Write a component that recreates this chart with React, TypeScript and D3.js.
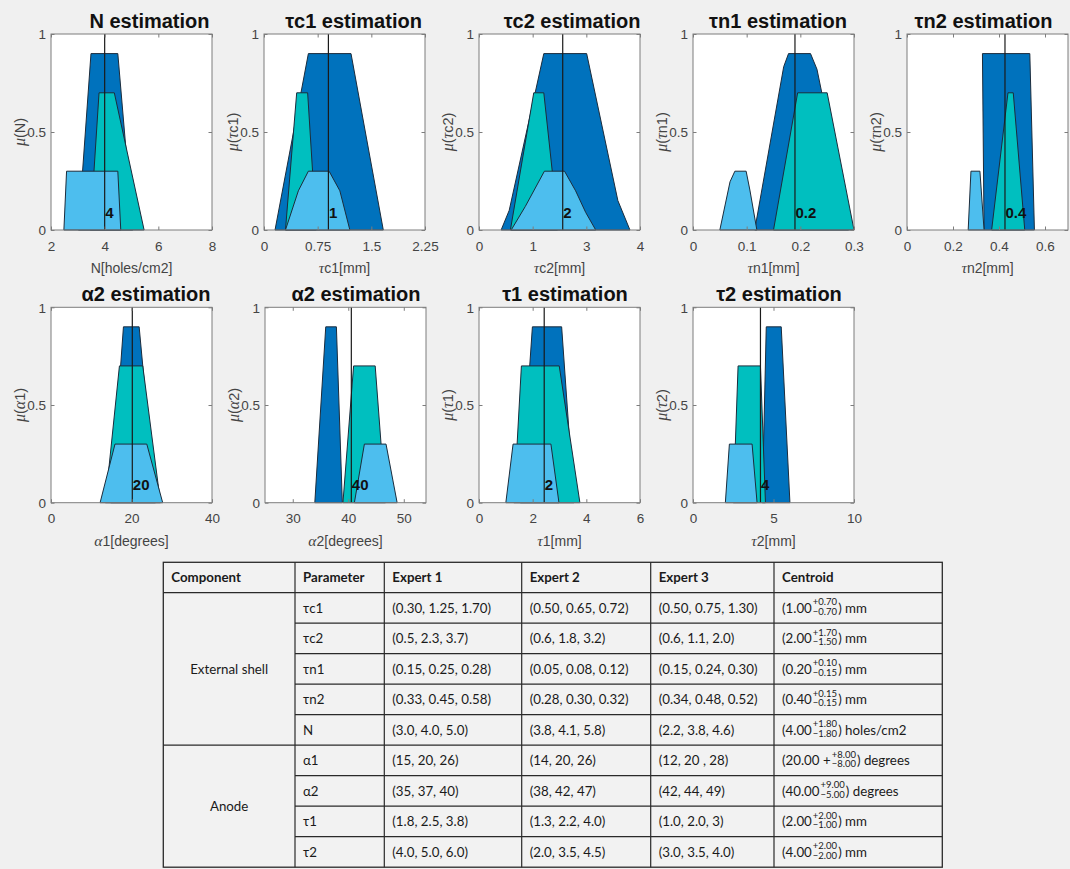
import React, { useEffect, useRef } from 'react';
import * as d3 from 'd3';

// ---------------- DATA ----------------
const panelTitles = [
  'N estimation', 'τc1 estimation', 'τc2 estimation', 'τn1 estimation', 'τn2 estimation',
  'α2 estimation', 'α2 estimation', 'τ1 estimation', 'τ2 estimation',
];
const xAxisLabels = [
  'N[holes/cm2]', 'τc1[mm]', 'τc2[mm]', 'τn1[mm]', 'τn2[mm]',
  'α1[degrees]', 'α2[degrees]', 'τ1[mm]', 'τ2[mm]',
];
const yAxisLabels = ['μ(N)', 'μ(τc1)', 'μ(τc2)', 'μ(τn1)', 'μ(τn2)', 'μ(α1)', 'μ(α2)', 'μ(τ1)', 'μ(τ2)'];
const xDomains: [number, number][] = [
  [2, 8], [0, 2.25], [0, 4], [0, 0.3], [0, 0.7], [0, 40], [25, 54], [0, 6], [0, 10],
];
const xTickValues = [
  [2, 4, 6, 8], [0, 0.75, 1.5, 2.25], [0, 4 / 3, 8 / 3, 4], [0, 0.1, 0.2, 0.3], [0, 0.2, 0.4, 0.6],
  [0, 20, 40], [30, 40, 50], [0, 2, 4, 6], [0, 5, 10],
];
const xTickLabels = [
  ['2', '4', '6', '8'], ['0', '0.75', '1.5', '2.25'], ['0', '1', '3', '4'], ['0', '0.1', '0.2', '0.3'],
  ['0', '0.2', '0.4', '0.6'], ['0', '20', '40'], ['30', '40', '50'], ['0', '2', '4', '6'], ['0', '5', '10'],
];
const yTickValues = [0, 0.5, 1];
const yTickLabels = ['0', '0.5', '1'];
const centroidValues = [4, 0.9, 2.08, 0.19, 0.426, 20.2, 40.55, 2.43, 4.19];
const centroidLabels = ['4', '1', '2', '0.2', '0.4', '20', '40', '2', '4'];
const centroidLabelLevel = 0.09;

// membership polygons (x value, membership)
const expert1Shapes: [number, number][][] = [
  [[3.02, 0], [3.49, 0.9], [4.49, 0.9], [5.05, 0]],
  [[0.154, 0], [0.62, 0.9], [1.216, 0.9], [1.667, 0]],
  [[0.55, 0], [0.75, 0.1], [1.61, 0.9], [2.675, 0.9], [3.45, 0.15], [3.75, 0]],
  [[0.115, 0], [0.169, 0.833], [0.178, 0.9], [0.219, 0.9], [0.231, 0.82], [0.24, 0.7], [0.29, 0]],
  [[0.335, 0], [0.328, 0.9], [0.534, 0.9], [0.554, 0]],
  [[14.85, 0], [18.0, 0.9], [21.9, 0.9], [25.95, 0]],
  [[33.97, 0], [35.94, 0.9], [37.86, 0.9], [38.93, 0]],
  [[1.54, 0], [1.99, 0.9], [3.08, 0.9], [3.54, 0]],
  [[4.3, 0], [4.55, 0.9], [5.48, 0.9], [6.02, 0]],
];
const expert2Shapes: [number, number][][] = [
  [[3.46, 0], [3.79, 0.7], [4.36, 0.7], [5.47, 0]],
  [[0.3, 0], [0.457, 0.7], [0.61, 0.7], [0.73, 0]],
  [[0.78, 0], [1.36, 0.7], [1.61, 0.7], [1.82, 0.3], [1.95, 0]],
  [[0.15, 0], [0.195, 0.7], [0.25, 0.7], [0.3, 0]],
  [[0.368, 0], [0.439, 0.7], [0.462, 0.7], [0.512, 0]],
  [[13.5, 0], [17.0, 0.7], [22.8, 0.7], [27.2, 0]],
  [[39.04, 0], [40.96, 0.7], [44.85, 0.7], [46.7, 0]],
  [[1.3, 0], [1.58, 0.7], [2.99, 0.7], [3.76, 0]],
  [[2.5, 0], [2.8, 0.7], [4.19, 0.7], [4.5, 0]],
];
const expert3Shapes: [number, number][][] = [
  [[2.48, 0], [2.58, 0.3], [4.49, 0.3], [4.6, 0]],
  [[0.3, 0], [0.48, 0.2], [0.62, 0.3], [0.91, 0.3], [1.06, 0.2], [1.2, 0]],
  [[0.8, 0], [1.15, 0.12], [1.625, 0.3], [2.125, 0.3], [2.4, 0.2], [2.65, 0.09], [2.9, 0]],
  [[0.05, 0], [0.069, 0.246], [0.078, 0.3], [0.099, 0.3], [0.106, 0.204], [0.119, 0]],
  [[0.266, 0], [0.278, 0.3], [0.317, 0.3], [0.335, 0]],
  [[12.2, 0], [15.9, 0.3], [23.8, 0.3], [27.75, 0]],
  [[41.1, 0], [42.9, 0.3], [46.8, 0.3], [48.8, 0]],
  [[1.0, 0], [1.27, 0.3], [2.68, 0.3], [2.98, 0]],
  [[2.01, 0], [2.26, 0.3], [3.67, 0.3], [3.98, 0]],
];

// table
const tableHeaders = ['Component', 'Parameter', 'Expert 1', 'Expert 2', 'Expert 3', 'Centroid'];
const tableComponents = ['External shell', 'Anode'];
const tableGroupSizes = [5, 4];
const tableParams = ['τc1', 'τc2', 'τn1', 'τn2', 'N', 'α1', 'α2', 'τ1', 'τ2'];
const expert1Triples = [
  '(0.30, 1.25, 1.70)', '(0.5, 2.3, 3.7)', '(0.15, 0.25, 0.28)', '(0.33, 0.45, 0.58)', '(3.0, 4.0, 5.0)',
  '(15, 20, 26)', '(35, 37, 40)', '(1.8, 2.5, 3.8)', '(4.0, 5.0, 6.0)',
];
const expert2Triples = [
  '(0.50, 0.65, 0.72)', '(0.6, 1.8, 3.2)', '(0.05, 0.08, 0.12)', '(0.28, 0.30, 0.32)', '(3.8, 4.1, 5.8)',
  '(14, 20, 26)', '(38, 42, 47)', '(1.3, 2.2, 4.0)', '(2.0, 3.5, 4.5)',
];
const expert3Triples = [
  '(0.50, 0.75, 1.30)', '(0.6, 1.1, 2.0)', '(0.15, 0.24, 0.30)', '(0.34, 0.48, 0.52)', '(2.2, 3.8, 4.6)',
  '(12, 20 , 28)', '(42, 44, 49)', '(1.0, 2.0, 3)', '(3.0, 3.5, 4.0)',
];
const centroidMain = ['(1.00', '(2.00', '(0.20', '(0.40', '(4.00', '(20.00 +', '(40.00', '(2.00', '(4.00'];
const centroidPlus = ['+0.70', '+1.70', '+0.10', '+0.15', '+1.80', '+8.00', '+9.00', '+2.00', '+2.00'];
const centroidMinus = ['−0.70', '−1.50', '−0.15', '−0.15', '−1.80', '−8.00', '−5.00', '−1.00', '−2.00'];
const centroidUnit = [') mm', ') mm', ') mm', ') mm', ') holes/cm2', ') degrees', ') degrees', ') mm', ') mm'];

// ---------------- LAYOUT / STYLE ----------------
const W = 1070;
const H = 869;
const PLOT_W = 161;
const rowTops = [34, 307.3];
const rowHeights = [196, 195.4];
const panelRow = [0, 0, 0, 0, 0, 1, 1, 1, 1];
const panelLefts = [51, 264, 479, 693, 907, 51, 265, 479, 693];
const titleCenters = [149.5, 353.5, 572, 778, 983.5, 146, 356, 565, 779];
const expertColors = ['#0072BD', '#00BFBF', '#4DBEEE'];
const SANS = '"Liberation Sans", Arial, sans-serif';
const SERIF = '"Liberation Serif", "Times New Roman", serif';
const TABLE_FONT = 'Lato, "Open Sans", sans-serif';
const TABLE_FS = 13.3;
const tableCols = [163.3, 295, 384.3, 521.7, 650.7, 774, 942.3];
const tableTop = 562.3;
const headerH = 30.4;
const rowH = 30.5;

type Sel = d3.Selection<any, any, any, any>;

function richText(t: Sel, text: string, italicGreek: boolean) {
  const runs: { s: string; g: boolean }[] = [];
  for (const ch of text) {
    const g = /[μτα]/.test(ch);
    const last = runs[runs.length - 1];
    if (last && last.g === g && !g) last.s += ch;
    else runs.push({ s: ch, g });
  }
  runs.forEach((r) => {
    const sp = t.append('tspan').text(r.s);
    if (r.g && italicGreek) sp.attr('font-family', SERIF).attr('font-style', 'italic').attr('font-size', '1.1em');
  });
}

function drawPanel(svg: Sel, i: number) {
  const row = panelRow[i];
  const left = panelLefts[i];
  const top = rowTops[row];
  const h = rowHeights[row];
  const x = d3.scaleLinear().domain(xDomains[i]).range([left, left + PLOT_W]);
  const y = d3.scaleLinear().domain([0, 1]).range([top + h, top]);
  const g = svg.append('g');

  g.append('rect').attr('x', left).attr('y', top).attr('width', PLOT_W).attr('height', h).attr('fill', '#ffffff');

  const line = d3
    .line<[number, number]>()
    .x((d) => x(d[0]))
    .y((d) => y(d[1]))
    .curve(d3.curveLinearClosed);
  [expert1Shapes[i], expert2Shapes[i], expert3Shapes[i]].forEach((pts, e) => {
    g.append('path')
      .attr('d', line(pts) as string)
      .attr('fill', expertColors[e])
      .attr('stroke', '#1c2c3c')
      .attr('stroke-width', 1)
      .attr('stroke-linejoin', 'round');
  });

  const c = centroidValues[i];
  g.append('line')
    .attr('x1', x(c)).attr('x2', x(c)).attr('y1', y(0)).attr('y2', y(1))
    .attr('stroke', '#1a1a1a').attr('stroke-width', 1.2);
  g.append('text')
    .attr('x', x(c) + 0.5).attr('y', y(centroidLabelLevel)).attr('dy', '0.35em')
    .attr('font-family', SANS).attr('font-weight', 'bold').attr('font-size', 15).attr('fill', '#111')
    .text(centroidLabels[i]);

  // box
  g.append('rect').attr('x', left).attr('y', top).attr('width', PLOT_W).attr('height', h)
    .attr('fill', 'none').attr('stroke', '#7d7d7d').attr('stroke-width', 1);

  // x axis
  const xa = g.append('g').attr('transform', `translate(0,${top + h})`)
    .call(d3.axisBottom(x).tickValues(xTickValues[i]).tickFormat((_d, j) => xTickLabels[i][j]).tickSizeInner(-3.5).tickSizeOuter(0));
  xa.select('.domain').remove();
  xa.selectAll('line').attr('stroke', '#7d7d7d');
  xa.selectAll('text').attr('y', 16).attr('dy', '0.35em').attr('font-family', SANS).attr('font-size', 13.5).attr('fill', '#444');
  const xt = g.append('g').attr('transform', `translate(0,${top})`)
    .call(d3.axisTop(x).tickValues(xTickValues[i]).tickFormat(() => '').tickSizeInner(-3.5).tickSizeOuter(0));
  xt.select('.domain').remove();
  xt.selectAll('line').attr('stroke', '#7d7d7d');

  // y axis
  const ya = g.append('g').attr('transform', `translate(${left},0)`)
    .call(d3.axisLeft(y).tickValues(yTickValues).tickFormat((_d, j) => yTickLabels[j]).tickSizeInner(-3.5).tickSizeOuter(0));
  ya.select('.domain').remove();
  ya.selectAll('line').attr('stroke', '#7d7d7d');
  ya.selectAll('text').attr('x', -5).attr('dy', '0.35em').attr('font-family', SANS).attr('font-size', 13.5).attr('fill', '#444');
  const yr = g.append('g').attr('transform', `translate(${left + PLOT_W},0)`)
    .call(d3.axisRight(y).tickValues(yTickValues).tickFormat(() => '').tickSizeInner(-3.5).tickSizeOuter(0));
  yr.select('.domain').remove();
  yr.selectAll('line').attr('stroke', '#7d7d7d');

  // axis labels
  const xl = g.append('text').attr('x', left + PLOT_W / 2).attr('y', top + h + 38).attr('dy', '0.35em')
    .attr('text-anchor', 'middle').attr('font-family', SANS).attr('font-size', 14).attr('fill', '#444');
  richText(xl, xAxisLabels[i], true);
  const yl = g.append('text')
    .attr('transform', `translate(${left - 31},${top + h / 2}) rotate(-90)`)
    .attr('dy', '0.35em').attr('text-anchor', 'middle').attr('font-family', SANS).attr('font-size', 14.5).attr('fill', '#444');
  richText(yl, yAxisLabels[i], true);

  // title
  g.append('text').attr('x', titleCenters[i]).attr('y', row === 0 ? 28 : 301)
    .attr('text-anchor', 'middle').attr('font-family', SANS).attr('font-weight', 'bold').attr('font-size', 20).attr('fill', '#111')
    .text(panelTitles[i]);
}

function drawTable(svg: Sel) {
  const g = svg.append('g');
  const n = tableParams.length;
  const bottom = tableTop + headerH + n * rowH;
  const left = tableCols[0];
  const right = tableCols[tableCols.length - 1];
  const stroke = '#2a2a2a';
  const rowY = (r: number) => tableTop + headerH + r * rowH;

  g.append('rect').attr('x', left).attr('y', tableTop).attr('width', right - left).attr('height', bottom - tableTop)
    .attr('fill', '#f2f2f2').attr('stroke', stroke).attr('stroke-width', 1.3);
  for (let c = 1; c < tableCols.length - 1; c++) {
    g.append('line').attr('x1', tableCols[c]).attr('x2', tableCols[c]).attr('y1', tableTop).attr('y2', bottom)
      .attr('stroke', stroke).attr('stroke-width', 1.2);
  }
  g.append('line').attr('x1', left).attr('x2', right).attr('y1', rowY(0)).attr('y2', rowY(0)).attr('stroke', stroke).attr('stroke-width', 1.3);
  let acc = 0;
  const groupEnds = tableGroupSizes.map((s) => (acc += s));
  for (let r = 1; r < n; r++) {
    const full = groupEnds.includes(r);
    g.append('line').attr('x1', full ? left : tableCols[1]).attr('x2', right).attr('y1', rowY(r)).attr('y2', rowY(r))
      .attr('stroke', stroke).attr('stroke-width', 1.2);
  }

  const txt = (x: number, yc: number, s: string, bold = false, anchor = 'start') =>
    g.append('text').attr('x', x).attr('y', yc).attr('dy', '0.36em').attr('text-anchor', anchor)
      .attr('font-family', TABLE_FONT).attr('font-size', TABLE_FS).attr('font-weight', bold ? 'bold' : 'normal').attr('fill', '#1a1a1a').text(s);

  tableHeaders.forEach((hd, c) => txt(tableCols[c] + 8, tableTop + headerH / 2, hd, true));

  let start = 0;
  tableComponents.forEach((comp, k) => {
    const size = tableGroupSizes[k];
    const yc = (rowY(start) + rowY(start + size)) / 2;
    txt((tableCols[0] + tableCols[1]) / 2, yc, comp, false, 'middle');
    start += size;
  });

  for (let r = 0; r < n; r++) {
    const yc = rowY(r) + rowH / 2;
    txt(tableCols[1] + 8, yc, tableParams[r]);
    txt(tableCols[2] + 8, yc, expert1Triples[r]);
    txt(tableCols[3] + 8, yc, expert2Triples[r]);
    txt(tableCols[4] + 8, yc, expert3Triples[r]);
    const mainT = txt(tableCols[5] + 8, yc, centroidMain[r]);
    const wMain = (mainT.node() as SVGTextElement).getComputedTextLength();
    const sx = tableCols[5] + 8 + wMain + 1;
    const small = (yy: number, s: string) =>
      g.append('text').attr('x', sx).attr('y', yy).attr('font-family', TABLE_FONT).attr('font-size', 9.5).attr('fill', '#1a1a1a').text(s);
    const sup = small(yc - 2.5, centroidPlus[r]);
    const sub = small(yc + 7, centroidMinus[r]);
    const ws = Math.max(
      (sup.node() as SVGTextElement).getComputedTextLength(),
      (sub.node() as SVGTextElement).getComputedTextLength(),
    );
    txt(sx + ws + 1, yc, centroidUnit[r]);
  }
}

export default function App() {
  const ref = useRef<SVGSVGElement>(null);
  useEffect(() => {
    const svg = d3.select(ref.current);
    svg.selectAll('*').remove();
    svg.append('rect').attr('width', W).attr('height', H).attr('fill', '#f0f0f0');
    panelTitles.forEach((_t, i) => drawPanel(svg as any, i));
    drawTable(svg as any);
  }, []);
  return (
    <svg
      ref={ref}
      width={W}
      height={H}
      style={{ position: 'absolute', left: 0, top: 0, display: 'block' }}
    />
  );
}
